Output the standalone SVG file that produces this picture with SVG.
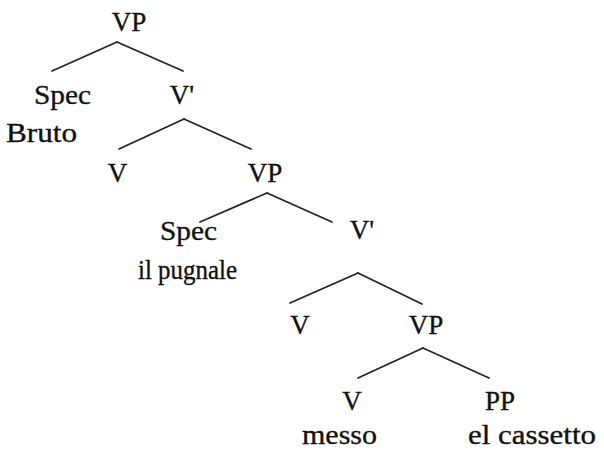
<svg xmlns="http://www.w3.org/2000/svg" width="604" height="451" viewBox="0 0 604 451">
<style>
text{font-family:"Liberation Serif","Times New Roman",serif;font-size:27px;fill:#111;stroke:#111;stroke-width:0.35}
.c{text-anchor:middle}
.e line{stroke:#222;stroke-width:1.7;stroke-linecap:round}
</style>
<rect width="604" height="451" fill="#fff"/>
<g id="connectors" class="e">
<line x1="117" y1="42" x2="52" y2="71"/><line x1="117" y1="42" x2="183" y2="71"/>
<line x1="184" y1="119" x2="119" y2="149"/><line x1="184" y1="119" x2="251" y2="149"/>
<line x1="267" y1="193" x2="200" y2="222"/><line x1="267" y1="193" x2="332" y2="222"/>
<line x1="358" y1="273" x2="290" y2="303"/><line x1="358" y1="273" x2="422" y2="304"/>
<line x1="423" y1="348" x2="358" y2="378"/><line x1="423" y1="348" x2="489" y2="378"/>
</g>
<g id="vp1"><text class="c" x="129" y="31">VP</text></g>
<g id="spec1"><text x="34" y="104" textLength="57" lengthAdjust="spacingAndGlyphs">Spec</text><text x="6" y="142" textLength="71" lengthAdjust="spacingAndGlyphs">Bruto</text></g>
<g id="vbar1"><text class="c" x="182" y="104">V'</text></g>
<g id="v1"><text class="c" x="117.5" y="182">V</text></g>
<g id="vp2"><text class="c" x="265" y="182">VP</text></g>
<g id="spec2"><text x="160" y="240" textLength="57" lengthAdjust="spacingAndGlyphs">Spec</text><text x="138" y="279" textLength="99" lengthAdjust="spacingAndGlyphs">il pugnale</text></g>
<g id="vbar2"><text class="c" x="362" y="239">V'</text></g>
<g id="v2"><text class="c" x="300" y="334">V</text></g>
<g id="vp3"><text class="c" x="426" y="334">VP</text></g>
<g id="v3"><text class="c" x="352" y="410">V</text><text x="302" y="444" textLength="75" lengthAdjust="spacingAndGlyphs">messo</text></g>
<g id="pp"><text class="c" x="500" y="410">PP</text><text x="468" y="444" textLength="128" lengthAdjust="spacingAndGlyphs">el cassetto</text></g>
</svg>
